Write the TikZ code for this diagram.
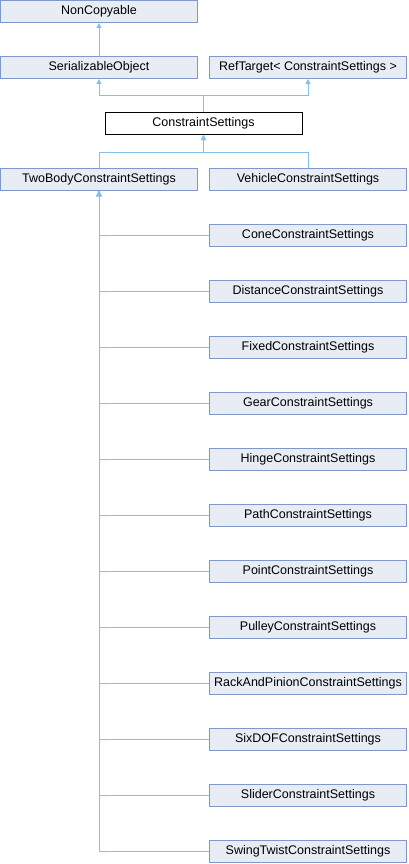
\documentclass[tikz,border=0pt]{standalone}
\usepackage{fontspec}
\setmainfont{Liberation Sans}
\usetikzlibrary{positioning, arrows.meta}
\definecolor{boxfill}{HTML}{E8ECF5}
\definecolor{boxline}{HTML}{7F97C9}
\definecolor{edgeblue}{HTML}{84C0E8}

\begin{document}
\begin{tikzpicture}[x=1pt, y=1pt, node distance=33pt and 11pt, line width=1pt,
	cls/.style={draw=boxline, fill=boxfill, minimum width=197pt, minimum height=22pt, inner sep=0pt, font=\fontsize{12.5}{14}\selectfont},
	clsmain/.style={cls, draw=black, fill=white},
	baseedge/.style={draw=edgeblue, -{Triangle[length=5pt, width=5pt]}}]
			\useasboundingbox (0,0) rectangle (408,-864);
			
			\node[cls] (noncopyable) at (99,-11.5) {NonCopyable};
			\node[cls] (serializable) [below=of noncopyable] {SerializableObject};
			\node[cls] (reftarget) [right=of serializable] {RefTarget< ConstraintSettings >};
			\node[clsmain] (constraint) [below=of serializable, xshift=104.5pt] {ConstraintSettings};
			
			\node[cls] (twobody) [below=of constraint, xshift=-104.5pt] {TwoBodyConstraintSettings};
			\node[cls] (vehicle) [right=of twobody] {VehicleConstraintSettings};
			
			\node[cls] (cone) [below=of vehicle] {ConeConstraintSettings};
			\node[cls] (distance) [below=of cone] {DistanceConstraintSettings};
			\node[cls] (fixed) [below=of distance] {FixedConstraintSettings};
			\node[cls] (gear) [below=of fixed] {GearConstraintSettings};
			\node[cls] (hinge) [below=of gear] {HingeConstraintSettings};
			\node[cls] (path) [below=of hinge] {PathConstraintSettings};
			\node[cls] (point) [below=of path] {PointConstraintSettings};
			\node[cls] (pulley) [below=of point] {PulleyConstraintSettings};
			\node[cls] (rack) [below=of pulley] {RackAndPinionConstraintSettings};
			\node[cls] (sixdof) [below=of rack] {SixDOFConstraintSettings};
			\node[cls] (slider) [below=of sixdof] {SliderConstraintSettings};
			\node[cls] (swingtwist) [below=of slider] {SwingTwistConstraintSettings};
			
			\draw[baseedge] (serializable) -- (noncopyable);
			\draw[baseedge] (constraint.north) -- ++(0,16) -| (serializable.south);
			\draw[baseedge] (constraint.north) -- ++(0,16) -| (reftarget.south);
			
			\draw[baseedge] (twobody.north) -- ++(0,16) -| (constraint.south);
			\draw[baseedge] (vehicle.north) -- ++(0,16) -| (constraint.south);
			
			\draw[baseedge] (cone.west) -| (twobody.south);
			\draw[baseedge] (distance.west) -| (twobody.south);
			\draw[baseedge] (fixed.west) -| (twobody.south);
			\draw[baseedge] (gear.west) -| (twobody.south);
			\draw[baseedge] (hinge.west) -| (twobody.south);
			\draw[baseedge] (path.west) -| (twobody.south);
			\draw[baseedge] (point.west) -| (twobody.south);
			\draw[baseedge] (pulley.west) -| (twobody.south);
			\draw[baseedge] (rack.west) -| (twobody.south);
			\draw[baseedge] (sixdof.west) -| (twobody.south);
			\draw[baseedge] (slider.west) -| (twobody.south);
			\draw[baseedge] (swingtwist.west) -| (twobody.south);
\end{tikzpicture}
\end{document}
